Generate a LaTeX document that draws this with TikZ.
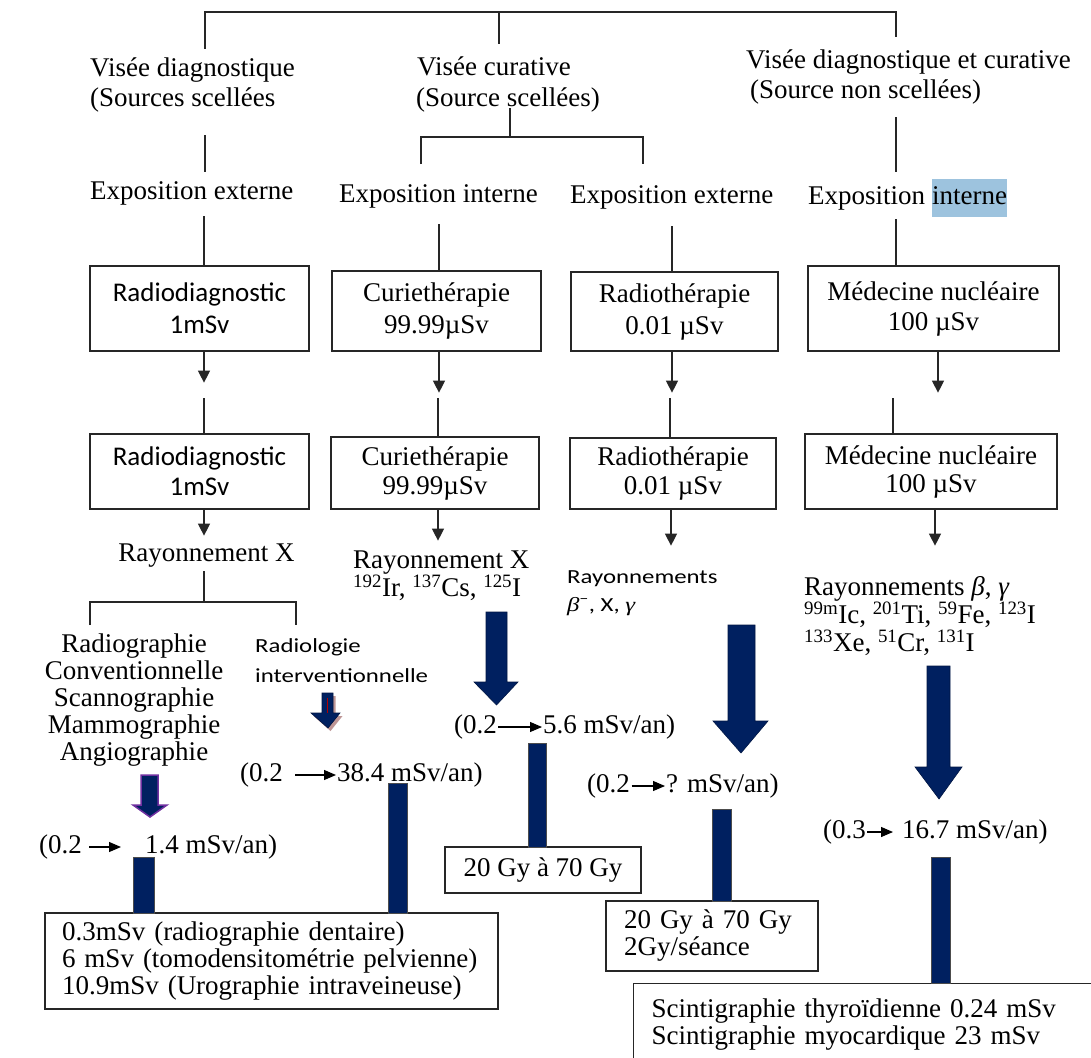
\documentclass[tikz,border=0pt]{standalone}
\usepackage{fontspec}
\setmainfont{Liberation Serif}
\newfontfamily\calib{Carlito}
\usepackage{graphicx}
\usetikzlibrary{arrows.meta}
\definecolor{navy}{RGB}{0,32,96}
\definecolor{hlblue}{RGB}{157,195,222}
\definecolor{purp}{RGB}{112,48,160}
\definecolor{shadowpink}{RGB}{190,150,150}
\newcommand\bigfs{\fontsize{27}{31}\selectfont}
\begin{document}
\begin{tikzpicture}[x=1pt,y=-1pt,
  lbl/.style={inner sep=0pt, anchor=west, font=\bigfs, text height=19pt, text depth=6pt},
  slbl/.style={inner sep=0pt, anchor=west, font=\calib\fontsize{20}{24}\selectfont, text height=14pt, text depth=5pt},
  mlbl/.style={inner sep=0pt, align=center, font=\fontsize{27}{27}\selectfont},
  boxs/.style={draw=black!85, line width=1.3pt, inner sep=0pt, align=center},
  tbox/.style={draw=black!85, line width=1.3pt, inner xsep=17pt, inner ysep=0pt, align=left, font=\fontsize{27}{27}\selectfont},
  link/.style={draw=black!85, line width=1.2pt},
  arr/.style={link, -{Triangle[length=12pt,width=12pt]}},
  darr/.style={draw=black, line width=1.2pt, -{Triangle[length=12pt,width=10pt]}},
  bar/.style={fill=navy, draw=black!70, line width=0.8pt},
  blk/.style={fill=navy, draw=navy!70!black, line width=0.6pt},
]
\useasboundingbox (0,0) rectangle (1091,1057);
\fill[white] (0,0) rectangle (1091,1057);

% ---------- top structure
\draw[link] (205,49) -- (205,12) -- (896,12) -- (896,37);
\draw[link] (499,12) -- (499,44);

\node[lbl] (vd1) at (90,70) {Visée diagnostique};
\node[lbl] (vd2) at (90,100) {(Sources scellées};
\node[lbl] (vc1) at (417,69) {Visée curative};
\node[lbl] (vc2) at (416,100) {(Source scellées)};
\node[lbl] (vx1) at (746,62) {Visée diagnostique et curative};
\node[lbl] (vx2) at (750,92) {(Source non scellées)};

\draw[link] (205,135) -- (205,172);
\draw[link] (510,108) -- (510,137);
\draw[link] (421,164) -- (421,137) -- (643,137) -- (643,164);
\draw[link] (896,117) -- (896,172);

\node[lbl] (ee1) at (90,193) {Exposition externe};
\node[lbl] (ei1) at (339,196) {Exposition interne};
\node[lbl] (ee2) at (570,197) {Exposition externe};
\node[lbl] (ei2) at (808,198) {Exposition};
\node[lbl, fill=hlblue, inner ysep=6.5pt] (ei2b) at (932,198) {interne};

% ---------- first row of boxes
\node[boxs, font=\calib\fontsize{27}{32}\selectfont, minimum width=219pt, minimum height=85pt] (rd1) at (199.5,308.5) {Radiodiagnostic\\1mSv};
\node[boxs, font=\fontsize{27}{32}\selectfont, minimum width=209pt, minimum height=80pt] (c1) at (436.5,311) {Curiethérapie\\99.99µSv};
\node[boxs, font=\fontsize{27}{32}\selectfont, minimum width=207pt, minimum height=79pt] (r1) at (674.5,311.5) {Radiothérapie\\0.01 µSv};
\node[boxs, font=\fontsize{27}{30}\selectfont, minimum width=251pt, minimum height=85pt] (m1) at (933.5,308.5) {Médecine nucléaire\\100 µSv};

% ---------- second row of boxes
\node[boxs, font=\calib\fontsize{27}{30}\selectfont, minimum width=219pt, minimum height=75pt] (rd2) at (199.5,471.5) {Radiodiagnostic\\1mSv};
\node[boxs, font=\fontsize{27}{29}\selectfont, minimum width=208pt, minimum height=72pt] (c2) at (435,473) {Curiethérapie\\99.99µSv};
\node[boxs, font=\fontsize{27}{29}\selectfont, minimum width=206pt, minimum height=71pt] (r2) at (673,473.5) {Radiothérapie\\0.01 µSv};
\node[boxs, font=\fontsize{27}{28}\selectfont, minimum width=252pt, minimum height=75pt] (m2) at (931,471.5) {Médecine nucléaire\\100 µSv};

% ---------- column connectors
\draw[link] ([xshift=4.5pt]rd1.north) -- ++(0,-49);
\draw[arr]  ([xshift=4.5pt]rd1.south) -- ++(0,31);
\draw[link] ([xshift=4.5pt]rd2.north) -- ++(0,-35);
\draw[arr]  ([xshift=4.5pt]rd2.south) -- ++(0,26);

\draw[link] ([xshift=2.5pt]c1.north) -- ++(0,-46);
\draw[arr]  ([xshift=2.5pt]c1.south) -- ++(0,41);
\draw[link] ([xshift=3pt]c2.north) -- ++(0,-38);
\draw[arr]  ([xshift=3pt]c2.south) -- ++(0,31);

\draw[link] ([xshift=-2.5pt]r1.north) -- ++(0,-45);
\draw[arr]  ([xshift=-2.5pt]r1.south) -- ++(0,41);
\draw[link] ([xshift=-3pt]r2.north) -- ++(0,-39);
\draw[arr]  ([xshift=-2pt]r2.south) -- ++(0,36);

\draw[link] ([xshift=-37.5pt]m1.north) -- ++(0,-46);
\draw[arr]  ([xshift=4.5pt]m1.south) -- ++(0,41);
\draw[link] ([xshift=-38pt]m2.north) -- ++(0,-35);
\draw[arr]  ([xshift=4pt]m2.south) -- ++(0,36);

% ---------- left column: Rayonnement X
\node[lbl, anchor=center] (rx1) at (206.5,555) {Rayonnement X};
\draw[link] (204,571) -- (204,602);
\draw[link] (90,625) -- (90,602) -- (296,602) -- (296,625);
\node[mlbl] (list) at (134,700.5) {Radiographie\\Conventionnelle\\Scannographie\\Mammographie\\Angiographie};
\node[slbl] (rl1) at (255,648) {\scalebox{1.24}[1]{Radiologie}};
\node[slbl] (rl2) at (255,678) {\scalebox{1.24}[1]{interventionnelle}};

% small arrow (radiologie) with shadow
\fill[shadowpink] (324.5,696) -- (335.5,696) -- (335.5,716) -- (342.5,716) -- (330.5,731) -- (313.5,716) -- (324.5,716) -- cycle;
\draw[blk] (322,693) -- (333,693) -- (333,713) -- (340,713) -- (328,728) -- (311,713) -- (322,713) -- cycle;
\draw[red!70!black, line width=1.2pt] (327.5,698) -- (327.5,713);

% small purple-edged arrow
\draw[fill=navy, draw=purp, line width=1.5pt] (141,775) -- (158,775) -- (158,805) -- (167,805) -- (150,817) -- (133,805) -- (141,805) -- cycle;

% ---------- curie column
\node[lbl] (rxc) at (353,562) {Rayonnement X};
\node[lbl] (isoc) at (353,590) {\textsuperscript{192}Ir, \textsuperscript{137}Cs, \textsuperscript{125}I};
\draw[blk] (486,612) -- (507,612) -- (507,682) -- (518,682) -- (496.5,705) -- (474,682) -- (486,682) -- cycle;

% ---------- radio column
\node[slbl] (rr1) at (567,579) {\scalebox{1.24}[1]{Rayonnements}};
\node[slbl] (rr2) at (567,607) {\scalebox{1.24}[1]{{\rmfamily\itshape β}\textsuperscript{−}, X, {\rmfamily\itshape γ}}};
\draw[blk] (728,625) -- (755,625) -- (755,721) -- (768,721) -- (741,753) -- (713,721) -- (728,721) -- cycle;

% ---------- medecine column
\node[inner sep=0pt, anchor=north west, align=left, font=\fontsize{27}{27}\selectfont] (rm) at (804,576)
  {Rayonnements \textit{β}, \textit{γ}\\
   \textsuperscript{99m}Ic, \textsuperscript{201}Ti, \textsuperscript{59}Fe, \textsuperscript{123}I\\[1pt]
   \textsuperscript{133}Xe, \textsuperscript{51}Cr, \textsuperscript{131}I};
\draw[blk] (927,666) -- (950,666) -- (950,767) -- (962,767) -- (939,799) -- (915,767) -- (927,767) -- cycle;

% ---------- dose lines
\node[lbl] (d1a) at (39,847) {(0.2};
\node[lbl] (d1b) at (145,847) {1.4 mSv/an)};
\draw[darr] ([xshift=7pt]d1a.east) -- ([xshift=-24pt]d1b.west);

\node[lbl] (d2a) at (240,775) {(0.2};
\node[lbl] (d2b) at (337,775) {38.4 mSv/an)};
\draw[darr] ([xshift=12pt]d2a.east) -- ([xshift=-1pt]d2b.west);

\node[lbl] (d3a) at (454,727) {(0.2};
\node[lbl] (d3b) at (543,727) {5.6 mSv/an)};
\draw[darr] ([xshift=1pt]d3a.east) -- ([xshift=-1pt]d3b.west);

\node[lbl] (d4a) at (587,786) {(0.2};
\node[lbl] (d4b) at (666,786) {? mSv/an)};
\draw[darr] ([xshift=1.5pt]d4a.east) -- ([xshift=-1pt]d4b.west);

\node[lbl] (d5a) at (823,832) {(0.3};
\node[lbl] (d5b) at (902,832) {16.7 mSv/an)};
\draw[darr] ([xshift=1pt]d5a.east) -- ([xshift=-9pt]d5b.west);

% ---------- bottom boxes
\node[tbox, text width=419pt, minimum height=96pt] (bl) at (271.5,961) {0.3mSv (radiographie dentaire)\\6 mSv (tomodensitométrie pelvienne)\\10.9mSv (Urographie intraveineuse)};
\node[tbox, inner xsep=0pt, align=center, minimum width=196pt, minimum height=46pt] (g1) at (543,870) {20 Gy à 70 Gy};
\node[tbox, inner xsep=18pt, text width=176pt, minimum height=70pt] (g2) at (712,936) {20 Gy à 70 Gy\\2Gy/séance};
\node[tbox, anchor=north west, inner xsep=18pt, inner ysep=15pt, text width=431pt] (sc) at (633,983) {Scintigraphie thyroïdienne 0.24 mSv\\Scintigraphie myocardique 23 mSv};

% ---------- bars
\draw[bar] (133,857) rectangle (154,913);
\draw[bar] (388,783) rectangle (407,913);
\draw[bar] (528,743) rectangle (546,847);
\draw[bar] (712,809) rectangle (731,901);
\draw[bar] (931,857) rectangle (950,983);
\end{tikzpicture}
\end{document}
